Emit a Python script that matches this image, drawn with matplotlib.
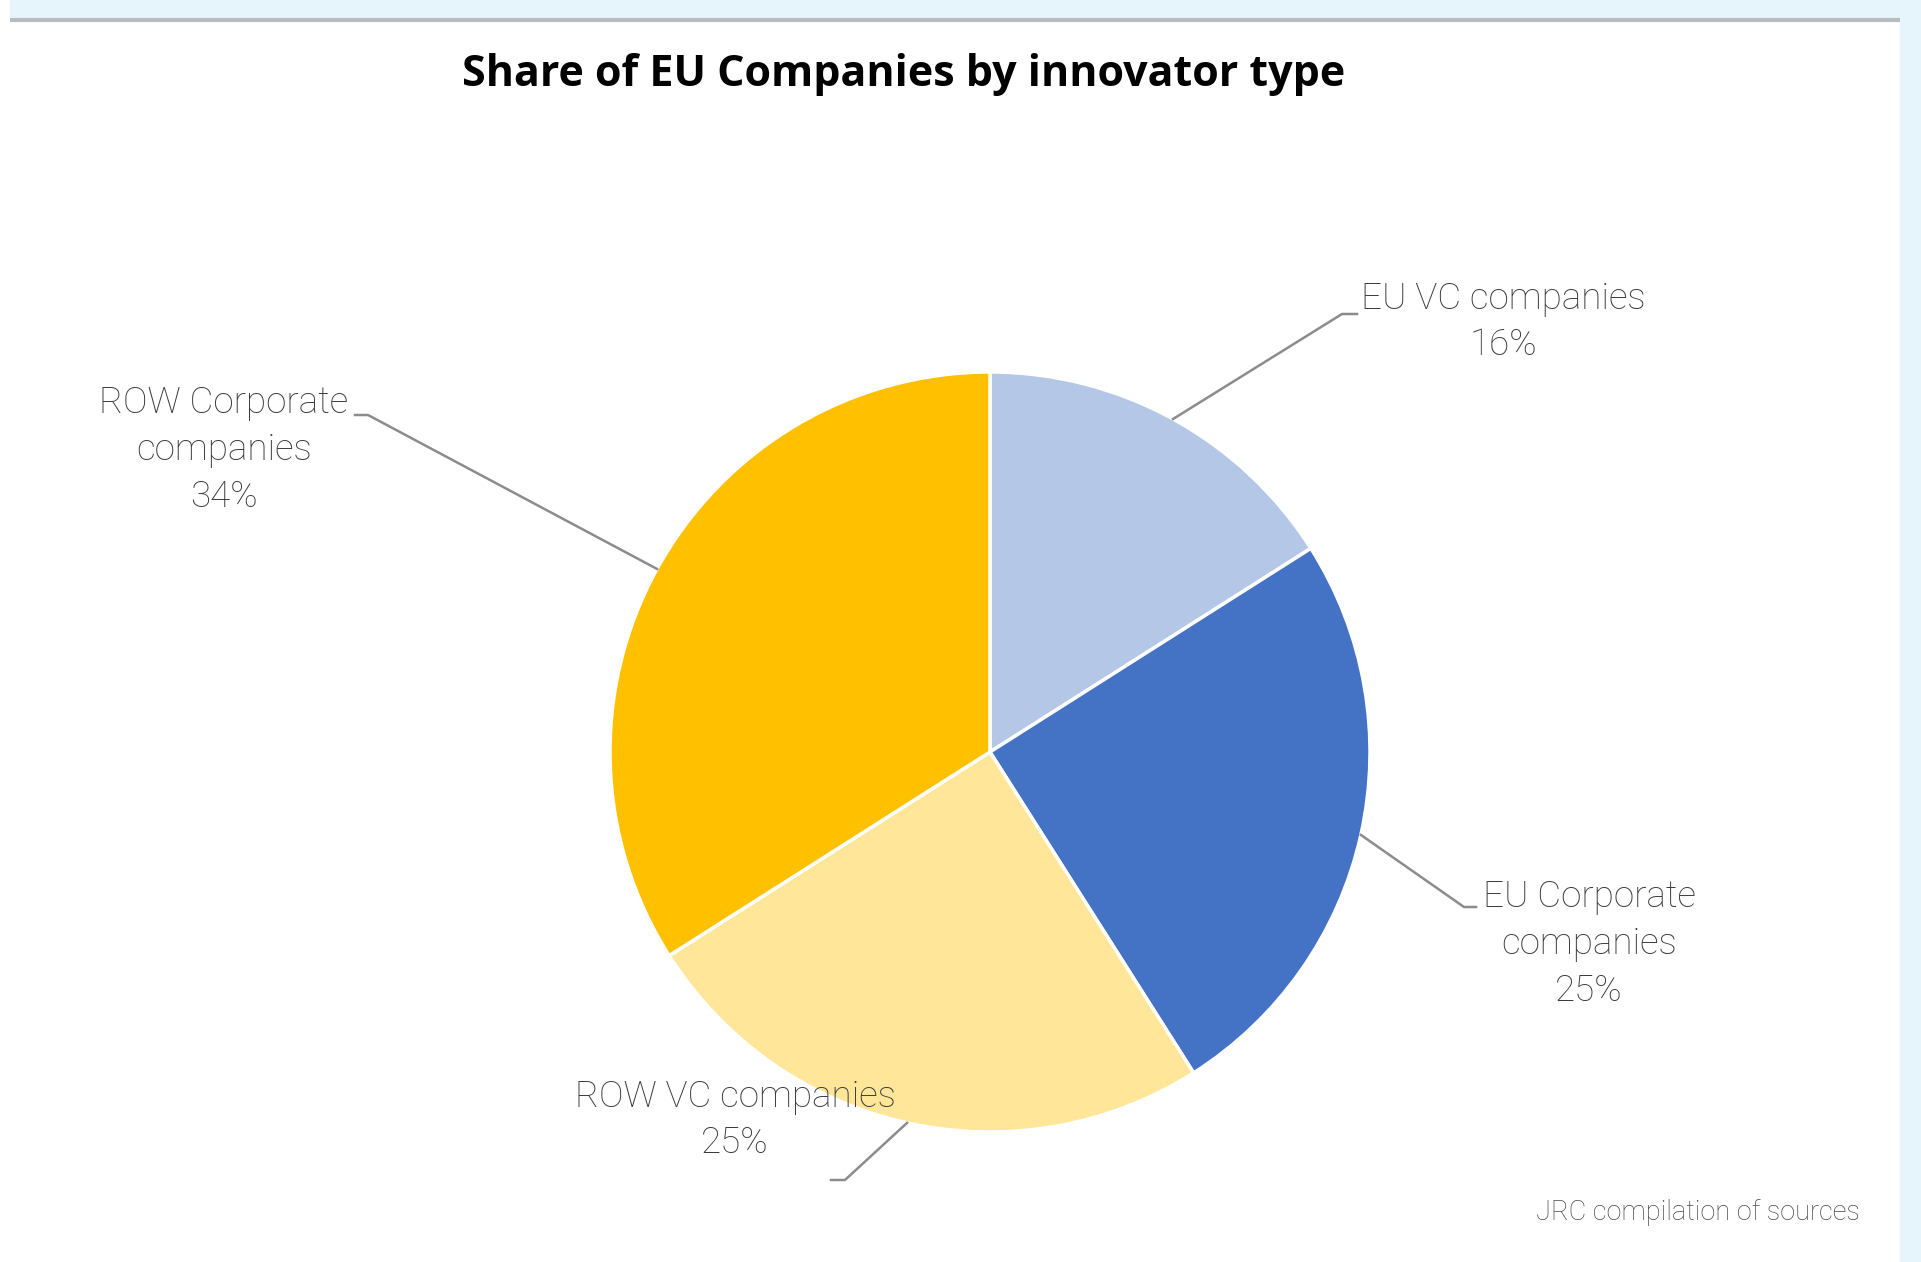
import numpy as np
import matplotlib.pyplot as plt
from matplotlib.patches import Rectangle

# share of companies by innovator type (%)
labels = ["EU VC companies", "EU Corporate\ncompanies", "ROW VC companies", "ROW Corporate\ncompanies"]
shares = [16, 25, 25, 34]
colors = ["#B4C7E7", "#4472C4", "#FFE699", "#FFC000"]

W, H = 1921, 1262
fig = plt.figure(figsize=(W / 100, H / 100), dpi=100)
ax = fig.add_axes([0, 0, 1, 1])

# page frame: light blue band on top and right, grey rule under it
ax.add_patch(Rectangle((10, 0), W - 10, 18, color="#E6F4FC", zorder=0))
ax.add_patch(Rectangle((1900, 0), 21, H, color="#E6F4FC", zorder=0))
ax.plot([10, 1900], [19.5, 19.5], color="#B8BCBF", lw=3, solid_capstyle="butt")

center = (990, 752)
radius = 380
# y axis is inverted below, so counterclock in data = clockwise on screen
wedges, _ = ax.pie(shares, colors=colors, startangle=-90, counterclock=True,
                   center=center, radius=radius,
                   wedgeprops=dict(edgecolor="white", linewidth=2.5))
ax.set_xlim(0, W)
ax.set_ylim(H, 0)
ax.set_aspect("equal")
ax.axis("off")

# leader lines: elbow point, end of the short horizontal, label centre
elbows = [(1342, 314), (1464, 907), (845, 1180), (368, 415)]
ends = [(1357, 314), (1476, 907), (831, 1180), (355, 415)]
text_xy = [(1503, 322), (1589, 944), (735, 1120), (224, 450)]

for w, lab, val, el, en, txy in zip(wedges, labels, shares, elbows, ends, text_xy):
    ang = np.deg2rad((w.theta1 + w.theta2) / 2)
    x0 = center[0] + radius * np.cos(ang)
    y0 = center[1] + radius * np.sin(ang)
    ax.plot([x0, el[0], en[0]], [y0, el[1], en[1]], color="#8C8C8C", lw=1.8)
    ax.text(txy[0], txy[1], f"{lab}\n{val}%", ha="center", va="center",
            fontsize=26.5, color="#3A3A3A", family="Roboto", weight="light",
            linespacing=1.38)

fig.text(904 / W, 1 - 75 / H, "Share of EU Companies by innovator type",
         ha="center", va="center", fontsize=31, weight="bold",
         family="Open Sans", color="#000000")
fig.text(1860 / W, 1 - 1212 / H, "JRC compilation of sources",
         ha="right", va="center", fontsize=19.5, color="#4A4A4A",
         family="Roboto", weight="light")

fig.savefig("out.png", dpi=100, facecolor="white")
